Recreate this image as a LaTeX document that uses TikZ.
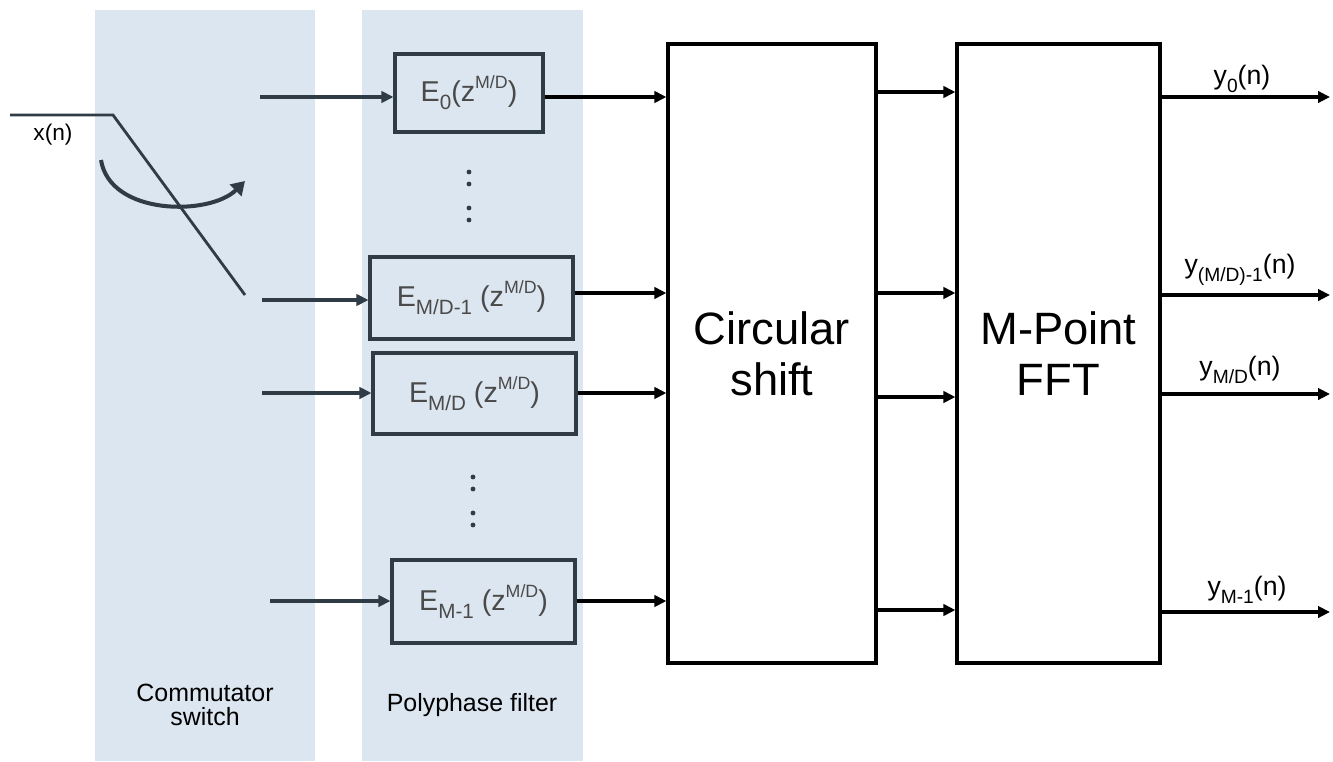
\documentclass[tikz,border=0pt]{standalone}
\usepackage{fontspec}
\setmainfont{Liberation Sans}
\usetikzlibrary{arrows.meta}
\definecolor{bandblue}{HTML}{DCE6F0}
\definecolor{boxgray}{HTML}{2F3B45}
\definecolor{txtgray}{HTML}{4A4A4A}
\newcommand{\sbs}[1]{\raisebox{-0.28em}{\scalebox{0.72}{#1}}}
\newcommand{\sps}[1]{\raisebox{0.45em}{\scalebox{0.62}{#1}}}
\begin{document}
\begin{tikzpicture}[x=0.75pt,y=-0.75pt,
  band/.style={fill=bandblue,draw=none},
  filt/.style={draw=boxgray,line width=2.3pt,text=txtgray,font=\fontsize{21.5}{24}\selectfont,inner sep=0pt},
  bigbox/.style={draw=black,line width=2.4pt,font=\fontsize{34}{38}\selectfont,align=center,inner sep=0pt},
  sig/.style={line width=2.4pt,draw=boxgray,-{Triangle[length=9pt,width=8.5pt]}},
  osig/.style={line width=2.4pt,draw=black,-{Triangle[length=9pt,width=8.5pt]}},
  lbl/.style={font=\fontsize{18.7}{21}\selectfont,align=center},
  olbl/.style={font=\fontsize{20}{22}\selectfont,inner sep=0pt},
  dotc/.style={fill=boxgray,draw=none}
]
\useasboundingbox (0,0) rectangle (1333,761);
% bands
\fill[band] (95,10) rectangle (315,761);
\fill[band] (362,10) rectangle (583,761);
\node[lbl] (lcomm) at (205,705) {Commutator\\[-3pt]switch};
\node[lbl] (lpoly) at (472,705) {Polyphase filter};

% filters
\node[filt,minimum width=111pt,minimum height=58.5pt] (e0) at (469,93) {E\sbs{0}(z\sps{M/D})};
\node[filt,minimum width=152.25pt,minimum height=61.5pt] (emd1) at (471.5,298) {E\sbs{M/D-1} (z\sps{M/D})};
\node[filt,minimum width=152.25pt,minimum height=60.75pt] (emd) at (474.5,393.5) {E\sbs{M/D} (z\sps{M/D})};
\node[filt,minimum width=137.25pt,minimum height=62.25pt] (em1) at (483.5,601.5) {E\sbs{M-1} (z\sps{M/D})};

% big boxes
\node[bigbox,minimum width=156pt,minimum height=464.25pt] (circ) at (772,353.5) {Circular\\shift};
\node[bigbox,minimum width=152.25pt,minimum height=464.25pt] (fft) at (1058.5,353.5) {M-Point\\FFT};

% dots
\foreach \yy in {172,184,208,220} \fill[dotc] (469,\yy) circle (2.4);
\foreach \yy in {477,489,513,525} \fill[dotc] (473,\yy) circle (2.4);

% commutator switch
\coordinate (xin) at (10,115);
\coordinate (sw) at (113,115);
\coordinate (swe) at (245,295);
\draw[line width=2.1pt,draw=boxgray] (xin) -- (sw) -- (swe);
\node[font=\fontsize{17}{19}\selectfont] (xlab) at (53,135) {x(n)};
\coordinate (ca) at (101,160);
\coordinate (cb) at (245,181);
\draw[line width=3pt,draw=boxgray,-{Triangle[length=10pt,width=12pt]}] (ca) .. controls (110,216) and (210,216) .. (cb);

% inputs to filters
\coordinate (i0) at (260,97);
\coordinate (i1) at (262,300);
\coordinate (i2) at (262,393);
\coordinate (i3) at (270,601);
\draw[sig] (i0) -- (i0 -| e0.west);
\draw[sig] (i1) -- (i1 -| emd1.west);
\draw[sig] (i2) -- (i2 -| emd.west);
\draw[sig] (i3) -- (i3 -| em1.west);

% filters to circular shift
\coordinate (f0) at (545,97);
\coordinate (f1) at (575,293);
\coordinate (f2) at (577,393);
\coordinate (f3) at (575,601);
\draw[osig] (f0 -| e0.east) -- (f0 -| circ.west);
\draw[osig] (f1 -| emd1.east) -- (f1 -| circ.west);
\draw[osig] (f2 -| emd.east) -- (f2 -| circ.west);
\draw[osig] (f3 -| em1.east) -- (f3 -| circ.west);

% circular shift to FFT
\foreach \yy/\nm in {92/c0,293/c1,397/c2,610/c3}{
  \coordinate (\nm) at (900,\yy);
  \draw[osig] (\nm -| circ.east) -- (\nm -| fft.west);
}

% outputs
\coordinate (o0) at (1330,97);
\coordinate (o1) at (1330,295);
\coordinate (o2) at (1330,394);
\coordinate (o3) at (1330,612);
\draw[osig] (o0 -| fft.east) -- (o0);
\draw[osig] (o1 -| fft.east) -- (o1);
\draw[osig] (o2 -| fft.east) -- (o2);
\draw[osig] (o3 -| fft.east) -- (o3);
\node[olbl] (y0) at (1242,79) {y\sbs{0}(n)};
\node[olbl] (y1) at (1240,270) {y\sbs{(M/D)-1}(n)};
\node[olbl] (y2) at (1240,370) {y\sbs{M/D}(n)};
\node[olbl] (y3) at (1247,590) {y\sbs{M-1}(n)};
\end{tikzpicture}
\end{document}
